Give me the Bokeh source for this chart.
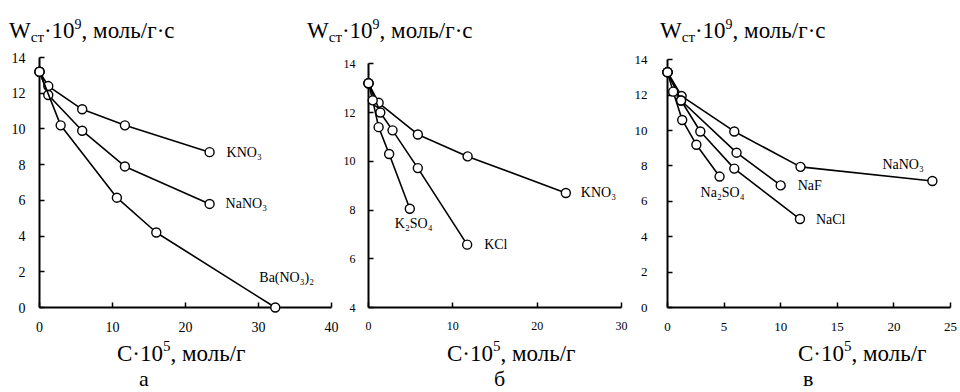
from bokeh.plotting import figure
from bokeh.models import Div, Label, FixedTicker, Range1d
from bokeh.layouts import column, row
from bokeh.embed import file_html
from bokeh.resources import INLINE

FONT = "Liberation Serif"
CSS_FONT = "'Liberation Serif', 'Times New Roman', serif"

# ---------------- data ----------------
# panel а
a_kno3_x = [0, 1.2, 5.85, 11.7, 23.3]
a_kno3_y = [13.2, 12.4, 11.1, 10.2, 8.7]
a_nano3_x = [0, 1.2, 5.85, 11.7, 23.3]
a_nano3_y = [13.2, 11.9, 9.9, 7.9, 5.8]
a_ba_x = [0, 2.9, 10.6, 16.0, 32.3]
a_ba_y = [13.2, 10.2, 6.15, 4.2, 0.0]
# panel б
b_kno3_x = [0, 1.2, 5.85, 11.75, 23.4]
b_kno3_y = [13.2, 12.4, 11.1, 10.2, 8.7]
b_kcl_x = [0, 1.4, 2.85, 5.85, 11.7]
b_kcl_y = [13.2, 12.0, 11.27, 9.72, 6.58]
b_k2so4_x = [0, 0.5, 1.2, 2.45, 4.9]
b_k2so4_y = [13.2, 12.5, 11.4, 10.3, 8.05]
# panel в
c_nano3_x = [0, 1.25, 5.9, 11.75, 23.4]
c_nano3_y = [13.3, 11.95, 9.95, 7.95, 7.15]
c_naf_x = [0, 1.2, 6.1, 10.0]
c_naf_y = [13.3, 11.7, 8.75, 6.9]
c_nacl_x = [0, 1.2, 2.9, 5.9, 11.7]
c_nacl_y = [13.3, 11.7, 9.95, 7.85, 5.0]
c_na2so4_x = [0, 0.5, 1.3, 2.55, 4.6]
c_na2so4_y = [13.3, 12.2, 10.6, 9.2, 7.4]

a_xticks = [0, 10, 20, 30, 40]
a_yticks = [0, 2, 4, 6, 8, 10, 12, 14]
b_xticks = [0, 10, 20, 30]
b_yticks = [4, 6, 8, 10, 12, 14]
c_xticks = [0, 5, 10, 15, 20, 25]
c_yticks = [0, 2, 4, 6, 8, 10, 12, 14]

FIG_H = 296
FR_TOP = 57      # page y of the (shared) frame top
FR_BOT = 307     # page y of the (shared) frame bottom
FIG_TOP = 46


def make_panel(width, mbl, mbr, y_top_px, xticks, yticks,
               font_size, xstand, ystand, series, labels):
    span = yticks[-1] - yticks[0]
    y_end = yticks[0] + span * (FR_BOT - FR_TOP) / (FR_BOT - y_top_px)
    p = figure(width=width, height=FIG_H,
               x_range=Range1d(xticks[0], xticks[-1]),
               y_range=Range1d(yticks[0], y_end),
               min_border_left=mbl, min_border_right=mbr,
               min_border_top=FR_TOP - FIG_TOP,
               min_border_bottom=FIG_TOP + FIG_H - FR_BOT,
               output_backend="svg", toolbar_location=None, tools="")
    p.outline_line_color = None
    p.grid.visible = False
    p.background_fill_color = "white"
    p.border_fill_color = "white"

    for ax, ticks, stand in ((p.xaxis, xticks, xstand), (p.yaxis, yticks, ystand)):
        ax.ticker = FixedTicker(ticks=ticks, minor_ticks=[])
        ax.axis_line_width = 2
        ax.axis_line_color = "black"
        ax.major_tick_in = 5
        ax.major_tick_out = 0
        ax.major_tick_line_width = 1.5
        ax.major_tick_line_color = "black"
        ax.minor_tick_line_color = None
        ax.major_label_text_font = FONT
        ax.major_label_text_font_size = font_size
        ax.major_label_text_color = "black"
        ax.major_label_standoff = stand
    p.yaxis.bounds = (yticks[0], yticks[-1])

    for xs, ys in series:
        p.line(xs, ys, line_color="black", line_width=1.6, level="overlay")
        p.scatter(xs, ys, marker="circle", size=9, fill_color="white",
                  line_color="black", line_width=1.4, level="overlay")
    for (xs, ys, text, dx, dy) in labels:
        p.add_layout(Label(x=xs[-1], y=ys[-1], text=text, x_offset=dx, y_offset=dy,
                           text_font=FONT, text_font_size="14px",
                           text_baseline="middle", text_align="left",
                           text_color="black"))
    return p


pa = make_panel(340, 39, 9, 57,
                a_xticks, a_yticks, "14px", 14, 14,
                [(a_kno3_x, a_kno3_y), (a_nano3_x, a_nano3_y), (a_ba_x, a_ba_y)],
                [(a_kno3_x, a_kno3_y, "KNO₃", 17, 0),
                 (a_nano3_x, a_nano3_y, "NaNO₃", 16, 0),
                 (a_ba_x, a_ba_y, "Ba(NO₃)₂", -16, 30)])

pb = make_panel(288, 26, 7, 63.3,
                b_xticks, b_yticks, "12px", 14, 13,
                [(b_kno3_x, b_kno3_y), (b_kcl_x, b_kcl_y), (b_k2so4_x, b_k2so4_y)],
                [(b_kno3_x, b_kno3_y, "KNO₃", 15, 0),
                 (b_kcl_x, b_kcl_y, "KCl", 17, 0),
                 (b_k2so4_x, b_k2so4_y, "K₂SO₄", -15, -15)])

pc = make_panel(332, 39, 10, 59.3,
                c_xticks, c_yticks, "13px", 15, 20,
                [(c_nano3_x, c_nano3_y), (c_naf_x, c_naf_y),
                 (c_nacl_x, c_nacl_y), (c_na2so4_x, c_na2so4_y)],
                [(c_nano3_x, c_nano3_y, "NaNO₃", -50, 16),
                 (c_naf_x, c_naf_y, "NaF", 17, 0),
                 (c_nacl_x, c_nacl_y, "NaCl", 16, 0),
                 (c_na2so4_x, c_na2so4_y, "Na₂SO₄", -19, -16)])

# ---------------- texts outside the frames ----------------
def title_span(left):
    return ('<span style="position:absolute;left:%dpx;top:19px;font-size:23px;'
            'line-height:23px;white-space:nowrap;">W<span style="font-size:15px;'
            'position:relative;top:4px;">ст</span>·10<span style="font-size:14px;'
            'position:relative;top:-9px;">9</span>, моль/г·с</span>' % left)


def xlabel_span(left):
    return ('<span style="position:absolute;left:%dpx;top:0px;font-size:23px;'
            'line-height:23px;white-space:nowrap;">'
            'C·10<span style="font-size:15px;'
            'position:relative;top:-10px;">5</span>, моль/г</span>' % left)


def letter_span(left, ch):
    return ('<span style="position:absolute;left:%dpx;top:26px;font-size:22px;'
            'line-height:22px;white-space:nowrap;">%s</span>' % (left, ch))


wrap = ('<div style="position:relative;width:960px;height:%dpx;font-family:%s;'
        'font-weight:normal;color:black;">%s</div>')

top_div = Div(text=wrap % (46, CSS_FONT,
                           title_span(9) + title_span(307) + title_span(660)),
              width=960, height=46, margin=0)
bottom_div = Div(text=wrap % (50, CSS_FONT,
                              xlabel_span(117) + xlabel_span(447) + xlabel_span(798)
                              + letter_span(139, "а") + letter_span(494, "б")
                              + letter_span(803, "в")),
                 width=960, height=50, margin=0)

layout = column(top_div, row(pa, pb, pc, spacing=0), bottom_div, spacing=0)

open("out.html", "w").write(file_html(layout, INLINE))
